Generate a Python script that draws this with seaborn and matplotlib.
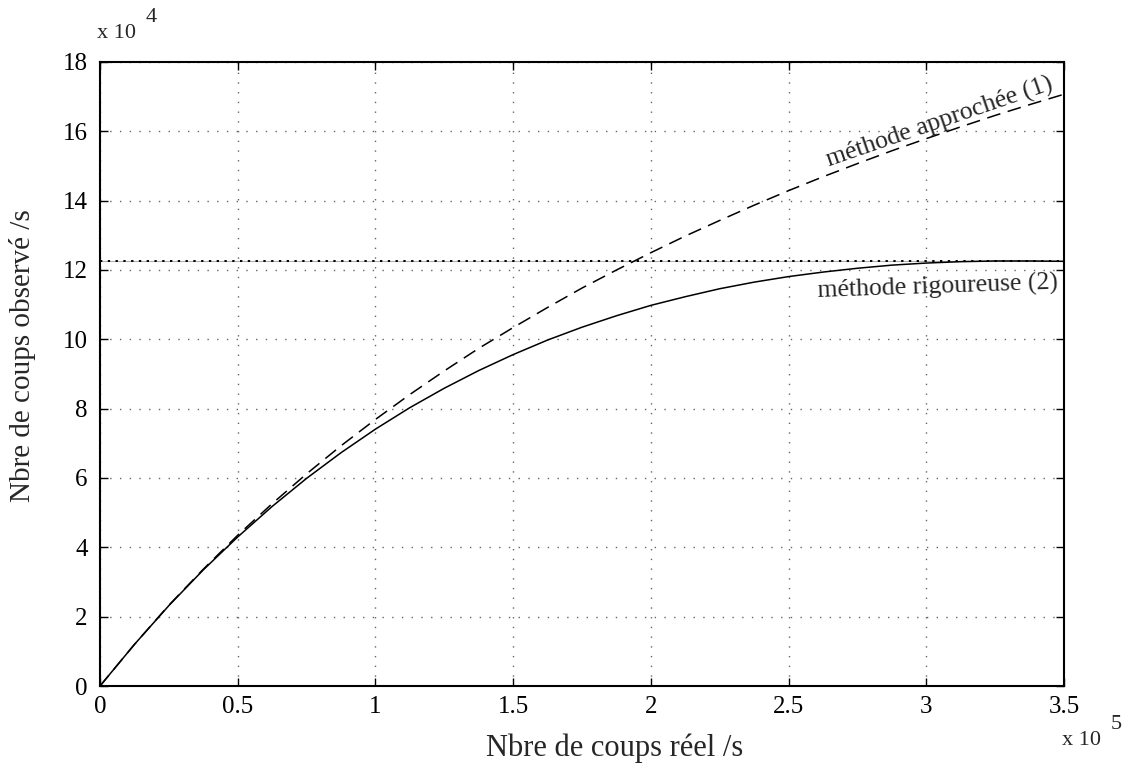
import matplotlib
matplotlib.use("Agg")
import matplotlib.pyplot as plt
import seaborn as sns
import pandas as pd

# Data (x in units of 1e5 counts/s, y in units of 1e4 counts/s)
x_reel = [0, 0.125, 0.25, 0.375, 0.5, 0.625, 0.75, 0.875, 1.0, 1.125, 1.25, 1.375,
          1.5, 1.625, 1.75, 1.875, 2.0, 2.125, 2.25, 2.375, 2.5, 2.625, 2.75, 2.875,
          3.0, 3.125, 3.25, 3.375, 3.5]
y_approchee = [0, 1.20, 2.33, 3.37, 4.35, 5.26, 6.12, 6.93, 7.69, 8.41, 9.09, 9.74,
               10.34, 10.92, 11.48, 12.00, 12.50, 12.98, 13.43, 13.87, 14.29, 14.69,
               15.07, 15.44, 15.79, 16.13, 16.46, 16.77, 17.07]
y_rigoureuse = [0, 1.20, 2.32, 3.35, 4.30, 5.18, 5.99, 6.73, 7.41, 8.03, 8.59, 9.10,
                9.56, 9.98, 10.35, 10.68, 10.98, 11.23, 11.46, 11.65, 11.81, 11.94,
                12.05, 12.14, 12.20, 12.24, 12.26, 12.26, 12.25]
y_max = 12.26
x_ticks = [0, 0.5, 1, 1.5, 2, 2.5, 3, 3.5]
x_ticklabels = ["0", "0.5", "1", "1.5", "2", "2.5", "3", "3.5"]
y_ticks = [0, 2, 4, 6, 8, 10, 12, 14, 16, 18]
y_ticklabels = ["0", "2", "4", "6", "8", "10", "12", "14", "16", "18"]

sns.set_theme(style="ticks")
plt.rcParams["font.family"] = ["Liberation Serif", "DejaVu Serif"]

fig = plt.figure(figsize=(11.25, 7.67), dpi=100)
ax = fig.add_axes([0.0889, 0.1056, 0.857, 0.8136])

df = pd.DataFrame({"x": x_reel, "approchee": y_approchee, "rigoureuse": y_rigoureuse})

ax.axhline(y_max, color="#b0b0b0", lw=0.8, zorder=2)
ax.axhline(y_max, color="black", lw=1.4, ls=(0, (1.2, 2.8)), zorder=2)
sns.lineplot(data=df, x="x", y="approchee", ax=ax, color="black", lw=1.1,
             linestyle=(0, (9, 5)), zorder=3)
sns.lineplot(data=df, x="x", y="rigoureuse", ax=ax, color="black", lw=1.1, zorder=3)

ax.set_xlim(0, 3.5)
ax.set_ylim(0, 18)
ax.set_xticks(x_ticks)
ax.set_xticklabels(x_ticklabels)
ax.set_yticks(y_ticks)
ax.set_yticklabels(y_ticklabels)
ax.tick_params(direction="in", length=6, width=1, top=True, right=True,
               labelsize=18, colors="black")
ax.tick_params(axis="x", pad=7)
ax.tick_params(axis="y", pad=9)
ax.grid(True, ls=(0, (1, 6)), color="#666666", lw=1.0)
for s in ax.spines.values():
    s.set_color("black")
    s.set_linewidth(1.5)

ax.set_xlabel("Nbre de coups réel /s", fontsize=22)
ax.xaxis.set_label_coords(0.534, -0.076)
ax.set_ylabel("Nbre de coups observé /s", fontsize=21)
ax.yaxis.set_label_coords(-0.066, 0.53)

# exponent labels
fig.text(97 / 1125, 1 - 38 / 767, "x 10", fontsize=16, ha="left", va="baseline")
fig.text(146 / 1125, 1 - 22 / 767, "4", fontsize=16, ha="left", va="baseline")
fig.text(1062 / 1125, 1 - 745 / 767, "x 10", fontsize=16, ha="left", va="baseline")
fig.text(1111 / 1125, 1 - 729 / 767, "5", fontsize=16, ha="left", va="baseline")

ax.text(3.05, 16.27, "méthode approchée (1)", fontsize=18.5, rotation=19,
        ha="center", va="center", rotation_mode="anchor")
ax.text(3.04, 11.5, "méthode rigoureuse (2)", fontsize=18.5, rotation=2,
        ha="center", va="center", rotation_mode="anchor")

fig.savefig("out.png", dpi=100, facecolor="white")
